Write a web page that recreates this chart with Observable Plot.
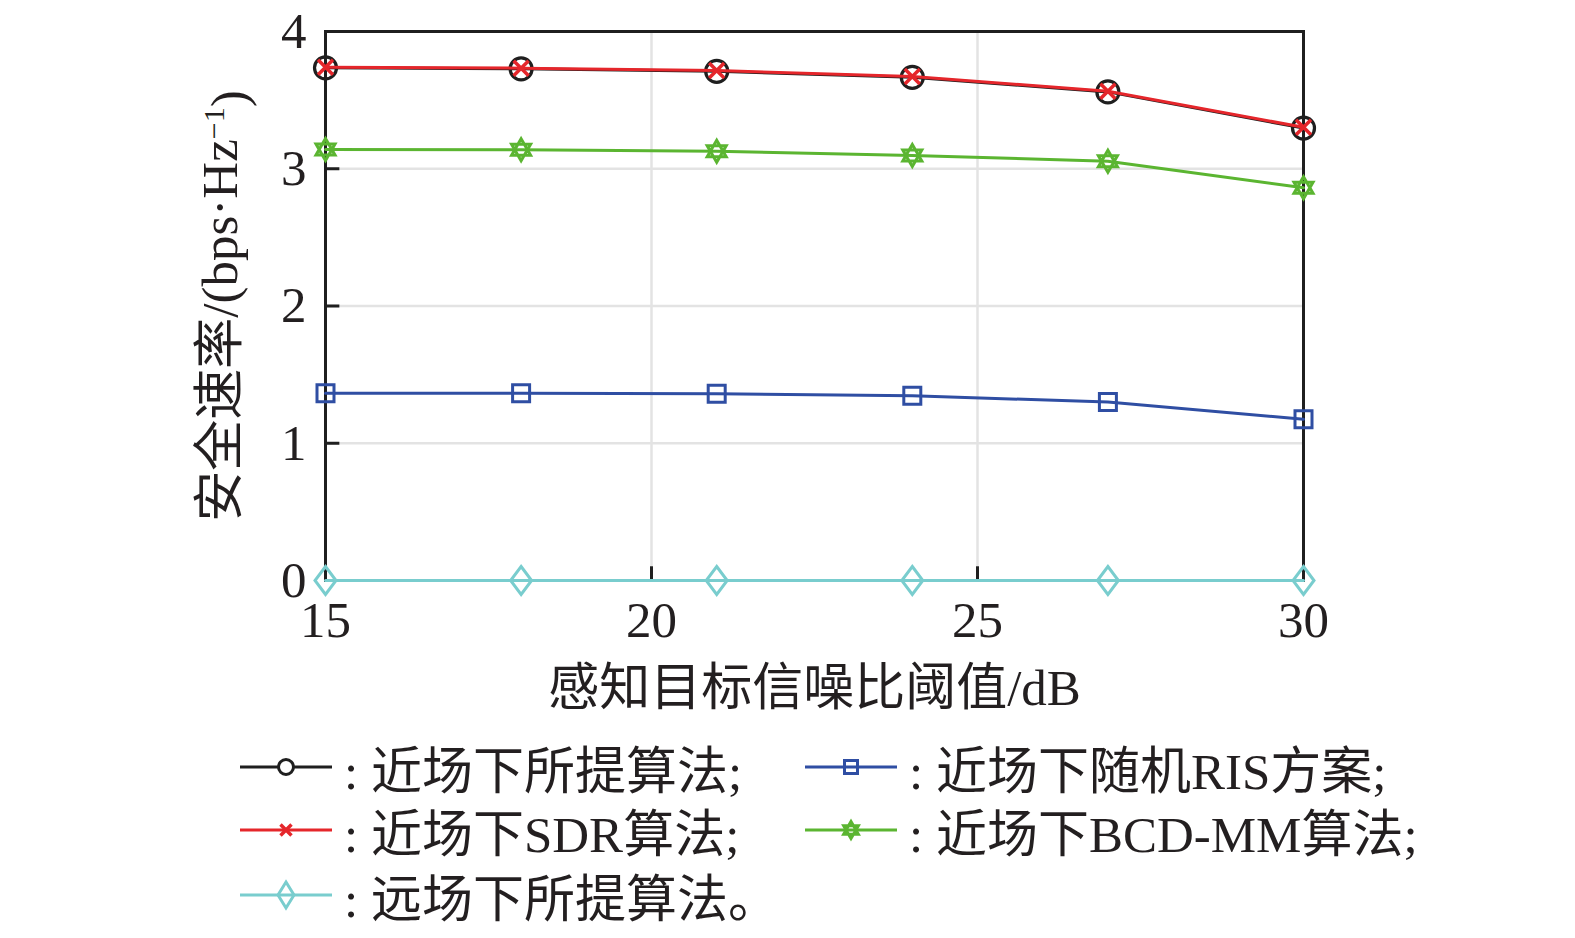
<!DOCTYPE html>
<html><head><meta charset="utf-8">
<script src="https://cdn.jsdelivr.net/npm/d3@7"></script>
<script src="https://cdn.jsdelivr.net/npm/@observablehq/plot@0.6"></script>
<style>
html,body{margin:0;padding:0;background:#fff;overflow:hidden;}
#wrap{position:relative;width:1575px;height:938px;overflow:hidden;font-family:"Liberation Serif","Noto Sans CJK SC",serif;color:#231f20;}
#wrap > svg{display:block;position:absolute;left:0;top:0;}
.leg{position:absolute;display:flex;align-items:center;height:60px;font-size:51px;white-space:nowrap;}
.leg svg{margin-right:12px;flex:none;}
</style></head><body><div id="wrap"></div>
<script>
// ---- data ----
const xs = [15, 18, 21, 24, 27, 30];
const proposedNear = [3.735, 3.728, 3.710, 3.666, 3.560, 3.296];
const sdrNear      = [3.740, 3.733, 3.716, 3.672, 3.565, 3.302];
const randomRIS    = [1.365, 1.365, 1.360, 1.346, 1.300, 1.175];
const bcdmmNear    = [3.140, 3.138, 3.128, 3.097, 3.055, 2.862];
const proposedFar  = [0, 0, 0, 0, 0, 0];
const seriesNames = ["近场下所提算法;", "近场下SDR算法;", "远场下所提算法。", "近场下随机RIS方案;", "近场下BCD-MM算法;"];
const xTicks = [15, 20, 25, 30];
const yTicks = [0, 1, 2, 3, 4];
const xGrid = [20, 25];
const yGrid = [1, 2, 3];
const xLabel = "感知目标信噪比阈值/dB";
const yLabelMain = "安全速率/(bps·Hz";
const yLabelSup = "−1";
const yLabelEnd = ")";

const colors = {black: "#1f1f1f", red: "#e5262b", cyan: "#79cdce", blue: "#2f4ea3", green: "#5bb531"};
const FONT = '"Liberation Serif","Noto Sans CJK SC",serif';

const rows = vals => xs.map((x, i) => ({x, y: vals[i]}));

// custom symbols (pixel sizes)
const crossSym = {draw(c){const a=7.5;c.moveTo(-a,-a);c.lineTo(a,a);c.moveTo(-a,a);c.lineTo(a,-a);}};
const squareSym = {draw(c){const a=8.5;c.moveTo(-a,-a);c.lineTo(a,-a);c.lineTo(a,a);c.lineTo(-a,a);c.closePath();}};
const diamondSym = {draw(c){const w=10.5,h=14;c.moveTo(0,-h);c.lineTo(w,0);c.lineTo(0,h);c.lineTo(-w,0);c.closePath();}};
const hexSym = {draw(c){const r=11;for(const off of [-90,90]){for(let k=0;k<3;k++){const a=(off+k*120)*Math.PI/180;const px=r*Math.cos(a),py=r*Math.sin(a);if(k===0)c.moveTo(px,py);else c.lineTo(px,py);}c.closePath();}}};

const W = 1575, H = 720;
const plot = Plot.plot({
  width: W, height: H,
  marginLeft: 325, marginRight: 272, marginTop: 31, marginBottom: H - 580,
  style: {fontFamily: FONT, color: "#231f20", background: "transparent"},
  x: {domain: [15, 30], type: "linear"},
  y: {domain: [0, 4], type: "linear"},
  marks: [
    Plot.gridX(xGrid, {stroke: "#e3e3e3", strokeOpacity: 1, strokeWidth: 2.5}),
    Plot.gridY(yGrid, {stroke: "#e3e3e3", strokeOpacity: 1, strokeWidth: 2.5}),
    Plot.ruleY(yGrid, {x1: 15, x2: 15.22, stroke: "#1f1f1f", strokeWidth: 3}),
    Plot.ruleX(xGrid, {y1: 0, y2: 0.1, stroke: "#1f1f1f", strokeWidth: 3}),
    Plot.frame({stroke: "#1f1f1f", strokeWidth: 3}),
    Plot.axisX(xTicks, {tickSize: 0, tickPadding: 20, fontSize: 51, label: null, tickFormat: d => String(d)}),
    Plot.axisY(yTicks, {tickSize: 0, tickPadding: 19, fontSize: 51, label: null, tickFormat: d => String(d)}),
    // series
    Plot.line(rows(proposedNear), {x: "x", y: "y", stroke: colors.black, strokeWidth: 3}),
    Plot.dot(rows(proposedNear), {x: "x", y: "y", r: 11, symbol: "circle", stroke: colors.black, fill: "none", strokeWidth: 3.2}),
    Plot.line(rows(sdrNear), {x: "x", y: "y", stroke: colors.red, strokeWidth: 3}),
    Plot.dot(rows(sdrNear), {x: "x", y: "y", symbol: crossSym, stroke: colors.red, fill: "none", strokeWidth: 3.5}),
    Plot.line(rows(bcdmmNear), {x: "x", y: "y", stroke: colors.green, strokeWidth: 3}),
    Plot.dot(rows(bcdmmNear), {x: "x", y: "y", symbol: hexSym, stroke: colors.green, fill: "none", strokeWidth: 3}),
    Plot.line(rows(randomRIS), {x: "x", y: "y", stroke: colors.blue, strokeWidth: 3}),
    Plot.dot(rows(randomRIS), {x: "x", y: "y", symbol: squareSym, stroke: colors.blue, fill: "none", strokeWidth: 3}),
    Plot.line(rows(proposedFar), {x: "x", y: "y", stroke: colors.cyan, strokeWidth: 3}),
    Plot.dot(rows(proposedFar), {x: "x", y: "y", symbol: diamondSym, stroke: colors.cyan, fill: "none", strokeWidth: 3}),
    // axis titles
    Plot.text([xLabel], {text: d => d, frameAnchor: "bottom", textAnchor: "middle", lineAnchor: "middle", dy: 108, fontSize: 51, fill: "#231f20"}),
    Plot.text([yLabelMain], {text: d => d, frameAnchor: "left", textAnchor: "middle", lineAnchor: "middle", dx: -105, rotate: -90, fontSize: 51, fill: "#231f20"})
  ]
});
document.getElementById("wrap").appendChild(plot);

// superscript in y label
d3.select(plot).selectAll("text").each(function(){
  const t = d3.select(this);
  if (this.textContent === yLabelMain) {
    t.text(null);
    t.append("tspan").text(yLabelMain);
    t.append("tspan").attr("dy", "-0.42em").attr("font-size", "30").text(yLabelSup);
    t.append("tspan").attr("dy", "0.42em").text(yLabelEnd);
  }
});

// legend
const legendItems = [
  {name: seriesNames[0], color: colors.black, sym: "circle", left: 240, cy: 767},
  {name: seriesNames[1], color: colors.red, sym: "cross", left: 240, cy: 830},
  {name: seriesNames[2], color: colors.cyan, sym: "diamond", left: 240, cy: 895},
  {name: seriesNames[3], color: colors.blue, sym: "square", left: 805, cy: 767},
  {name: seriesNames[4], color: colors.green, sym: "hex", left: 805, cy: 830}
];
const symPath = {
  circle: "M-7.5,0A7.5,7.5 0 1,0 7.5,0A7.5,7.5 0 1,0 -7.5,0",
  cross: "M-5.5,-5.5L5.5,5.5M-5.5,5.5L5.5,-5.5",
  diamond: "M0,-13L8,0L0,13L-8,0Z",
  square: "M-6.5,-6.5H6.5V6.5H-6.5Z",
  hex: (() => {let s=""; const r=8.5; for (const off of [-90,90]) {for (let k=0;k<3;k++){const a=(off+k*120)*Math.PI/180; s += (k?"L":"M")+(r*Math.cos(a)).toFixed(2)+","+(r*Math.sin(a)).toFixed(2);} s+="Z";} return s;})()
};
const wrap = document.getElementById("wrap");
for (const it of legendItems) {
  const div = document.createElement("div");
  div.className = "leg";
  div.style.left = it.left + "px";
  div.style.top = (it.cy - 30) + "px";
  const sw = it.sym === "cross" ? 3.5 : 3;
  div.innerHTML = `<svg width="92" height="40" viewBox="0 0 92 40"><line x1="0" y1="20" x2="92" y2="20" stroke="${it.color}" stroke-width="3"/><path transform="translate(46,20)" d="${symPath[it.sym]}" fill="${it.sym==='circle'?'#fff':'none'}" stroke="${it.color}" stroke-width="${sw}"/></svg><span>:&nbsp;${it.name}</span>`;
  wrap.appendChild(div);
}
</script></body></html>
